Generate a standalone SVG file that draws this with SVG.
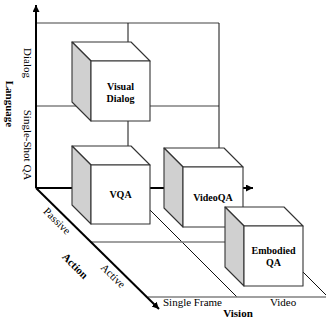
<svg xmlns="http://www.w3.org/2000/svg" width="326" height="320" viewBox="0 0 326 320">
<style>
.gh{stroke:#808080;stroke-width:1.3;fill:none}
.gv{stroke:#111;stroke-width:1;fill:none}
.ax{stroke:#000;stroke-width:2;fill:none}
.face{fill:#fff;stroke:#333;stroke-width:1.1;stroke-linejoin:round}
.side{fill:#d0d0d0;stroke:#333;stroke-width:1.1;stroke-linejoin:round}
.t{font-family:"Liberation Serif","Times New Roman",serif;font-size:11px;fill:#000}
.b{font-weight:bold}
.lbl{font-family:"Liberation Serif","Times New Roman",serif;font-size:10px;font-weight:bold;fill:#000;text-anchor:middle}
</style>
<defs>
<marker id="ah" markerUnits="userSpaceOnUse" markerWidth="8" markerHeight="8" refX="7" refY="3.5" orient="auto">
<path d="M0,0 L7,3.5 L0,7 z" fill="#000"/>
</marker>
</defs>
<rect width="326" height="320" fill="#fff"/>
<g id="connectors">
<line class="gh" x1="36" y1="23" x2="219" y2="23"/>
<line class="gh" x1="36" y1="106" x2="219" y2="106"/>
<line class="gv" x1="128" y1="23" x2="128" y2="188"/>
<line class="gv" x1="219" y1="23" x2="219" y2="188"/>
<line class="gv" x1="128" y1="188" x2="237" y2="297"/>
<line class="gv" x1="219" y1="188" x2="328" y2="297"/>
<line class="gh" x1="90" y1="242" x2="273" y2="242"/>
<line class="gh" x1="148" y1="297" x2="328" y2="297"/>
<line class="ax" x1="36" y1="188" x2="36" y2="5" marker-end="url(#ah)"/>
<line class="ax" x1="36" y1="188" x2="253" y2="188" marker-end="url(#ah)"/>
<line class="ax" x1="36" y1="188" x2="159" y2="309" marker-end="url(#ah)"/>
</g>
<g id="visual-dialog">
<polygon class="face" points="72,42 131,42 150,61 91,61"/>
<polygon class="side" points="72,42 91,61 91,121 72,102"/>
<rect class="face" x="91" y="61" width="59" height="60"/>
<text class="lbl" x="120.5" y="89.5">Visual</text>
<text class="lbl" x="120.5" y="101.5">Dialog</text>
</g>
<g id="vqa">
<polygon class="face" points="72,146 131,146 150,165 91,165"/>
<polygon class="side" points="72,146 91,165 91,224 72,205"/>
<rect class="face" x="91" y="165" width="59" height="59"/>
<text class="lbl" x="120.5" y="198">VQA</text>
</g>
<g id="videoqa">
<polygon class="face" points="164,148 224,148 243,167 183,167"/>
<polygon class="side" points="164,148 183,167 183,227 164,208"/>
<rect class="face" x="183" y="167" width="60" height="60"/>
<text class="lbl" x="213" y="200.5">VideoQA</text>
</g>
<g id="embodied-qa">
<polygon class="face" points="225,207 284,207 303,226 244,226"/>
<polygon class="side" points="225,207 244,226 244,286 225,267"/>
<rect class="face" x="244" y="226" width="59" height="60"/>
<text class="lbl" x="273.5" y="254">Embodied</text>
<text class="lbl" x="273.5" y="266">QA</text>
</g>
<g id="labels">
<text class="t b" text-anchor="middle" transform="translate(6,104) rotate(90)">Language</text>
<text class="t" text-anchor="middle" transform="translate(24,63) rotate(90)">Dialog</text>
<text class="t" text-anchor="middle" transform="translate(24,145) rotate(90)">Single-Shot QA</text>
<text class="t" text-anchor="middle" transform="translate(54.5,223.5) rotate(44.5)">Passive</text>
<text class="t b" text-anchor="middle" transform="translate(72.5,268.5) rotate(44.5)">Action</text>
<text class="t" text-anchor="middle" transform="translate(110.5,278.5) rotate(44.5)">Active</text>
<text class="t" x="163" y="306">Single Frame</text>
<text class="t" x="270" y="306">Video</text>
<text class="t b" text-anchor="middle" x="238" y="317">Vision</text>
</g>
</svg>
